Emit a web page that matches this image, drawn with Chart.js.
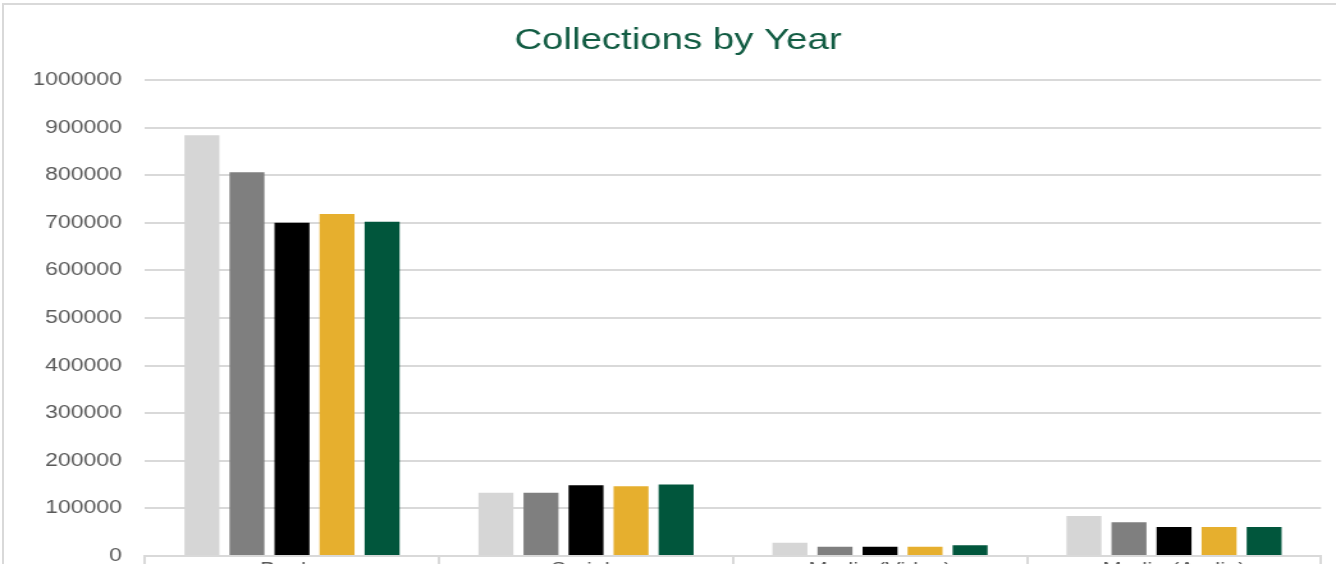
<!DOCTYPE html>
<html lang="en">
<head>
    <meta charset="UTF-8" />
    <title>Collections by Year</title>
    <script src="https://cdn.jsdelivr.net/npm/chart.js"></script>
    <style>
        html, body {
            margin: 0;
            padding: 0;
            width: 1336px;
            height: 564px;
            overflow: hidden;
            background: #fff;
        }

        #frame {
            position: absolute;
            left: 2px;
            top: 3px;
            width: 1400px;
            height: 700px;
            border-top: 2px solid #d9d9d9;
            border-left: 2px solid #d9d9d9;
        }

        /* the source picture is a bit wider than it is tall, so stretch the chart sideways */
        #wrap {
            position: absolute;
            left: 0;
            top: 0;
            width: 1044px;
            height: 600px;
            transform: scaleX(1.2797);
            transform-origin: 0 0;
        }
    </style>
</head>
<body>
    <div id="frame"></div>
    <div id="wrap">
        <canvas id="chart" width="1044" height="600"></canvas>
    </div>

    <script>
        const categories = ["Books", "Serials", "Media (Video)", "Media (Audio)"];
        const seriesNames = ["2016", "2017", "2018", "2019", "2020"];
        const seriesColors = ["#d6d6d6", "#7f7f7f", "#000000", "#e6af2e", "#01563c"];

        const year1 = [884000, 133000, 28000, 84000];
        const year2 = [806000, 133000, 19500, 71000];
        const year3 = [700000, 148500, 19500, 61000];
        const year4 = [718500, 146500, 19500, 61000];
        const year5 = [702000, 150000, 22500, 61000];

        const yTicks = [0, 100000, 200000, 300000, 400000, 500000, 600000, 700000, 800000, 900000, 1000000];

        const allSeries = [year1, year2, year3, year4, year5];
        const textColor = "#595959";
        const lineColor = "#d9d9d9";
        const fontFamily = "'Liberation Sans', Arial, sans-serif";

        new Chart(document.getElementById("chart").getContext("2d"), {
            type: "bar",
            data: {
                labels: categories,
                datasets: allSeries.map((values, i) => ({
                    label: seriesNames[i],
                    data: values,
                    backgroundColor: seriesColors[i],
                    borderWidth: 0,
                    barPercentage: 0.776,
                    categoryPercentage: 0.766
                }))
            },
            options: {
                responsive: false,
                animation: false,
                devicePixelRatio: 1,
                layout: {
                    // uneven side padding pushes the title a little right, like the original
                    padding: { left: 27.3, right: 11.7, top: 0, bottom: 0 }
                },
                plugins: {
                    legend: { display: false },
                    tooltip: { enabled: false },
                    title: {
                        display: true,
                        text: "Collections by Year",
                        color: "#125c43",
                        font: { family: fontFamily, size: 30, weight: "normal" },
                        padding: { top: 23, bottom: 21 }
                    }
                },
                scales: {
                    x: {
                        grid: {
                            offset: true,
                            drawOnChartArea: false,
                            drawTicks: true,
                            tickLength: 12,
                            color: lineColor,
                            lineWidth: 2
                        },
                        border: { display: true, color: lineColor, width: 2 },
                        ticks: {
                            color: textColor,
                            padding: -9,
                            font: { family: fontFamily, size: 18 }
                        },
                        afterFit: scale => { scale.height = 44; }
                    },
                    y: {
                        min: 0,
                        max: 1000000,
                        afterBuildTicks: scale => {
                            scale.ticks = yTicks.map(v => ({ value: v }));
                        },
                        grid: {
                            color: lineColor,
                            lineWidth: 2,
                            drawTicks: false
                        },
                        border: { display: false },
                        ticks: {
                            color: textColor,
                            padding: 18,
                            font: { family: fontFamily, size: 18 },
                            callback: v => String(v)
                        },
                        afterFit: scale => { scale.width = 86; }
                    }
                }
            }
        });
    </script>
</body>
</html>
